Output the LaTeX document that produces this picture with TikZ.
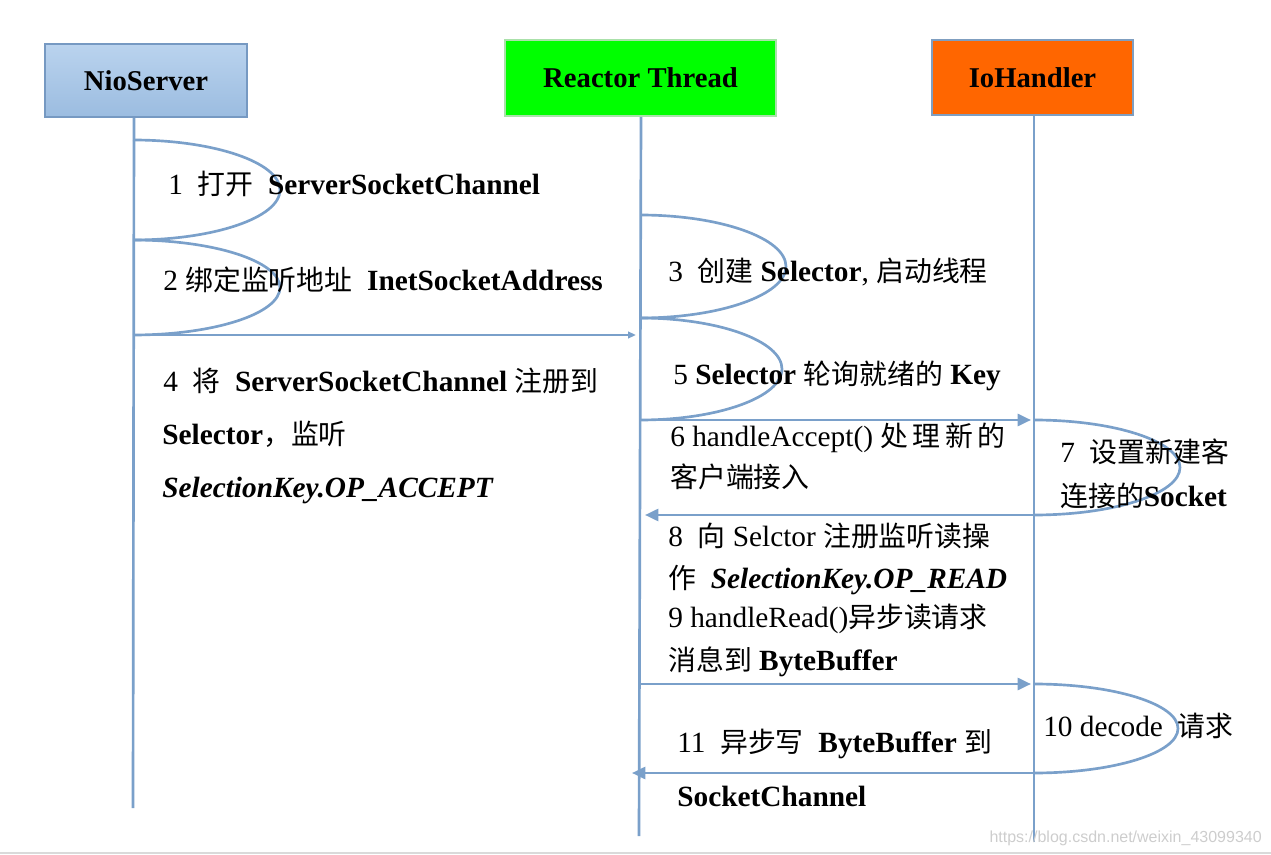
\documentclass[tikz,border=0pt]{standalone}
\usepackage{fontspec}
\setmainfont{Liberation Serif}
\newfontfamily\cjk[Scale=0.95]{Noto Sans CJK SC}
\newfontfamily\wmfont{Liberation Sans}
\usetikzlibrary{arrows.meta,calc}
\newcommand\zh[1]{{\cjk #1}}
\definecolor{life}{RGB}{122,160,202}
\definecolor{niotop}{RGB}{186,211,238}
\definecolor{niobot}{RGB}{155,188,224}
\definecolor{nioedge}{RGB}{118,153,194}
\definecolor{reactfill}{RGB}{0,255,0}
\definecolor{reactedge}{RGB}{170,225,170}
\definecolor{iofill}{RGB}{255,102,0}
\definecolor{ioedge}{RGB}{127,158,192}
\definecolor{wm}{RGB}{205,205,205}
\definecolor{sepline}{RGB}{218,218,218}
\begin{document}
\begin{tikzpicture}[x=0.75pt,y=-0.75pt,
  lbl/.style={anchor=base west, inner sep=0pt, font=\fontsize{22}{26}\selectfont},
  boxlbl/.style={inner sep=0pt, outer sep=0pt, font=\fontsize{21.5}{25}\selectfont\bfseries},
  lifeline/.style={draw=life, line width=2pt},
  msg/.style={draw=life, line width=2pt, -{Triangle[length=10pt,width=9pt]}},
  smallmsg/.style={draw=life, line width=2pt, -{Triangle[length=6pt,width=5pt]}},
  selfloop/.style={draw=life, line width=2pt}]
\useasboundingbox (0,0) rectangle (1271,855);

% participant boxes
\node (nio) [boxlbl, draw=nioedge, line width=2.2pt, top color=niotop, bottom color=niobot,
  minimum width=151.5pt, minimum height=54.75pt] at (146,80.5) {NioServer};
\node (reactor) [boxlbl, draw=reactedge, line width=0.8pt, fill=reactfill,
  minimum width=203.25pt, minimum height=57pt] at (640.5,78) {Reactor Thread};
\node (ioh) [boxlbl, draw=ioedge, line width=2.2pt, fill=iofill,
  minimum width=150.75pt, minimum height=56.25pt] at (1032.5,77.5) {IoHandler};

% lifelines
\coordinate (nioTop) at (134,118);
\coordinate (nioEnd) at (133,808);
\coordinate (reTop) at (641,117);
\coordinate (reEnd) at (639,836);
\coordinate (ioTop) at (1034,116);
\coordinate (ioEnd) at (1034,842);
\draw[lifeline] (nioTop) -- (nioEnd);
\draw[lifeline] (reTop) -- (reEnd);
\draw[lifeline] (ioTop) -- (ioEnd);

% points on lifelines
\coordinate (n1) at (133,140);
\coordinate (n2) at (133,240);
\coordinate (n3) at (133,335);
\coordinate (a4) at (636,335);
\coordinate (r1) at (640,215);
\coordinate (r2) at (640,318);
\coordinate (r3) at (640,420);
\coordinate (r4) at (645,515);
\coordinate (r5) at (640,684);
\coordinate (r6) at (632,773);
\coordinate (h1) at (1031,420);
\coordinate (h1b) at (1034,420);
\coordinate (h2) at (1034,515);
\coordinate (h3) at (1031,684);
\coordinate (h3b) at (1034,684);
\coordinate (h4) at (1034,773);

% self loops
\draw[selfloop] (n1) .. controls +(81,0) and +(0,-27.6) .. ($(n1)+(147,50)$)
  .. controls +(0,27.6) and +(81,0) .. (n2);
\draw[selfloop] (n2) .. controls +(81,0) and +(0,-26.2) .. ($(n2)+(147,47.5)$)
  .. controls +(0,26.2) and +(81,0) .. (n3);
\draw[selfloop] (r1) .. controls +(80,0) and +(0,-28.4) .. ($(r1)+(146,51.5)$)
  .. controls +(0,28.4) and +(80,0) .. (r2);
\draw[selfloop] (r2) .. controls +(78,0) and +(0,-28.2) .. ($(r2)+(142,51)$)
  .. controls +(0,28.2) and +(78,0) .. (r3);
\draw[selfloop] (h1b) .. controls +(80,0) and +(0,-26.2) .. ($(h1b)+(146,47.5)$)
  .. controls +(0,26.2) and +(80,0) .. (h2);
\draw[selfloop] (h3b) .. controls +(79,0) and +(0,-24.8) .. ($(h3b)+(144,44.5)$)
  .. controls +(0,24.8) and +(79,0) .. (h4);

% messages
\draw[smallmsg] (n3) -- (a4);
\draw[msg] (r3) -- (h1);
\draw[msg] (h2) -- (r4);
\draw[msg] (r5) -- (h3);
\draw[msg] (h4) -- (r6);

% labels on NioServer side
\node (t1) [lbl] at (168,195) {1\ \ \zh{打开}\ \ \textbf{ServerSocketChannel}};
\node (t2) [lbl] at (163,291) {2\ \zh{绑定监听地址}\ \ \textbf{InetSocketAddress}};
\node (t4a) [lbl] at (163,392) {4\ \ \zh{将}\ \ \textbf{ServerSocketChannel} \zh{注册到}};
\node (t4b) [lbl] at (162,445) {\textbf{Selector}\zh{，监听}};
\node (t4c) [lbl] at (162,497) {\textbf{\textit{SelectionKey.OP\_ACCEPT}}};

% labels on Reactor side
\node (t3) [lbl] at (668,282) {3\ \ \zh{创建} \textbf{Selector}, \zh{启动线程}};
\node (t5) [lbl] at (673,385) {5 \textbf{Selector} \zh{轮询就绪的} \textbf{Key}};
\node (t6a) [lbl] at (670,446) {6 handleAccept() \zh{处\,理\,新\,的}};
\node (t6b) [lbl] at (670,487) {\zh{客户端接入}};
\node (t8a) [lbl] at (668,546) {8\ \ \zh{向} Selctor \zh{注册监听读操}};
\node (t8b) [lbl] at (668,588) {\zh{作}\ \ \textbf{\textit{SelectionKey.OP\_READ}}};
\node (t9a) [lbl] at (668,627) {9 handleRead()\zh{异步读请求}};
\node (t9b) [lbl] at (668,670) {\zh{消息到} \textbf{ByteBuffer}};
\node (t11a) [lbl] at (677,752) {11\ \ \zh{异步写}\ \ \textbf{ByteBuffer} \zh{到}};
\node (t11b) [lbl] at (677,806) {\textbf{SocketChannel}};

% labels on IoHandler side
\node (t7a) [lbl] at (1060,463) {7\ \ \zh{设置新建客}};
\node (t7b) [lbl] at (1060,506) {\zh{连接的}\textbf{Socket}};
\node (t10) [lbl] at (1043,736) {10 decode\ \ \zh{请求}};

% watermark and separator
\node (wmark) [anchor=base east, inner sep=0pt, text=wm, font=\wmfont\fontsize{12}{14}\selectfont] at (1262,842) {https://blog.csdn.net/weixin\_43099340};
\draw[sepline, line width=1.5pt] (0,853) -- (1271,853);
\end{tikzpicture}
\end{document}
